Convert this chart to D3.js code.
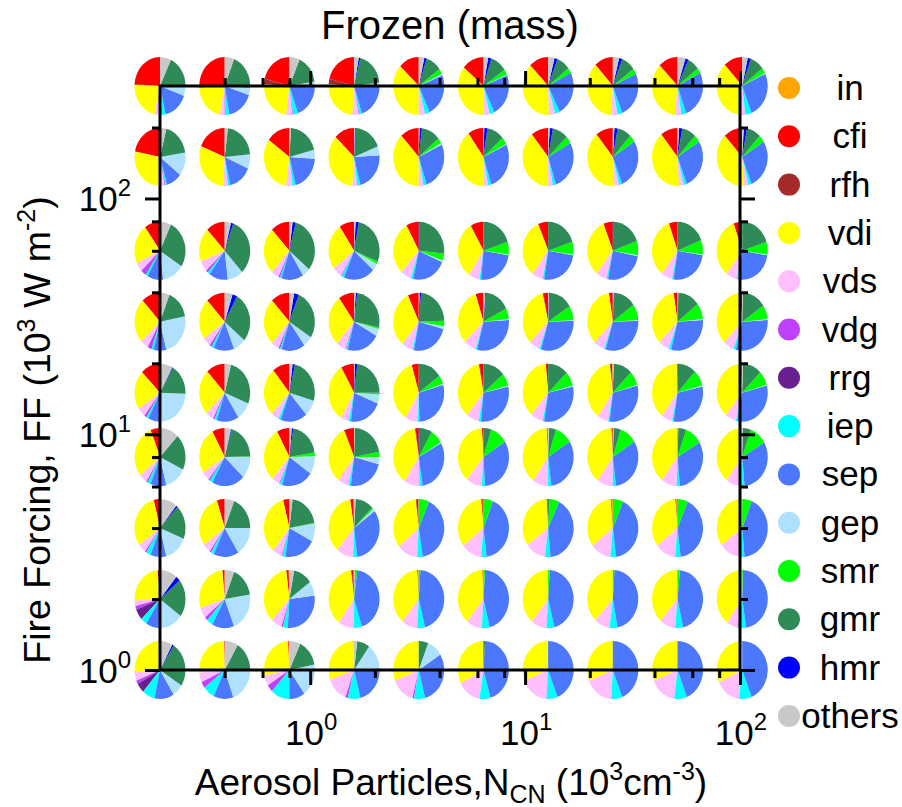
<!DOCTYPE html>
<html>
<head>
<meta charset="utf-8">
<script src="https://cdn.jsdelivr.net/npm/d3@7"></script>
<style>
  body { margin: 0; background: #fff; }
  text { font-family: "Liberation Sans", Arial, sans-serif; fill: #000; }
</style>
</head>
<body>
<svg id="chart" width="902" height="807"></svg>
<script>
// species shown in every pie, in drawing order (counter-clockwise from 12 o'clock)
const species = ['in', 'cfi', 'rfh', 'vdi', 'vds', 'vdg', 'rrg', 'iep', 'sep', 'gep', 'smr', 'gmr', 'hmr', 'others'];
const speciesColors = ['#ffa500', '#ff0000', '#a52a2a', '#ffff00', '#ffbfff', '#bf40ff', '#682090',
                       '#00ffff', '#4b78ff', '#b0e0ff', '#00ff00', '#2e8b57', '#0000ff', '#c8c8c8'];

// pie positions
const nCN = [0.2, 0.4, 0.8, 1.6, 3.2, 6.4, 12.8, 25.6, 51.2, 102.4];
const fireForcing = [300, 150, 60, 30, 15, 8, 4, 2, 1];

// tick values
const majorTicks = [1, 10, 100];
const majorExp = ['0', '1', '2'];
const minorX = [0.4, 0.6, 0.8, 2, 4, 6, 8, 20, 40, 60, 80];
const minorY = [2, 4, 6, 8, 20, 40, 60, 80, 200];

// mass shares (%) per pie, one row per FF value, columns follow nCN
// order: in, cfi, rfh, vdi, vds, vdg, rrg, iep, sep, gep, smr, gmr, hmr, others
const ff300 = [
  [0, 24, .5, 22, 3, 1, 0, 3, 16, 6, 0, 17.5, 0, 7],
  [0, 25, 1, 21, 3, .5, 0, 2.5, 17, 4, 0, 20, 0, 6],
  [0, 21, 3, 24, 4, .5, 0, 3, 20, 2, 0, 16, 0, 6.5],
  [0, 21, 3, 25, 4, .5, 0, 1.5, 20, 2, 0, 19, 1, 3],
  [0, 13, 0, 37, 4, 0, 0, 3, 24, 1, 3, 10, 1.5, 3.5],
  [0, 14, 0, 36, 4, 0, 0, 3, 24, .5, 3, 10.5, 2, 3],
  [0, 12, .5, 38, 4, 0, 0, 3, 25, 0, 3, 8.5, 2, 4],
  [0, 12, 0, 37, 4, 0, 0, 3, 26, 0, 3, 9, 2, 4],
  [0, 12, .5, 36, 4, 0, 0, 3, 27, 0, 3, 7.5, 2, 5],
  [0, 12, 0, 36, 4, 0, 0, 4, 26, .5, 3, 9, 2, 3.5]
];
const ff150 = [
  [0, 22, 0, 28, 3, .5, 0, 1, 10, 13, 0, 18.5, 0, 4],
  [0, 19, 0, 30, 3, 0, 0, 1.5, 15, 8, 0, 21.5, 0, 2],
  [0, 15, 0, 33, 4, 0, 0, 2, 20, 5, 0, 20, 0, 1],
  [0, 13, 0, 36, 3, 0, 0, 2, 22, 5, 0, 18, .5, .5],
  [0, 12, 0, 38, 3, 0, 0, 2, 27, 1, 3, 12, 1.5, .5],
  [0, 10, 0, 40, 3, 0, 0, 2, 27, .5, 4, 11, 2, .5],
  [0, 11, 0, 39, 3, 0, 0, 2, 28, 0, 4, 10, 2, 1],
  [0, 11, 0, 40, 3, 0, 0, 2, 28, 0, 4, 9, 2, 1],
  [0, 11, 0, 40, 3, 0, 0, 2, 28, 0, 4, 9, 2, 1],
  [0, 12, 0, 39, 3, 0, 0, 2, 28, 0, 4, 9, 2, 1]
];
const ff60 = [
  [0, 10, 0, 22, 5, 3, .5, 1.5, 10, 14, 0, 27, 0, 7],
  [0, 12, 0, 19, 6, 1.5, 0, 1.5, 12, 10, 0, 32.5, 1.5, 4],
  [0, 12, 0, 26, 5, 1, 0, 1, 14, 5, 0, 32, 2, 2],
  [0, 9.5, 0, 26, 6, .5, 0, 1.5, 20, 4, 1.5, 28, 2, 1],
  [0, 8, 0, 30, 7, 0, 0, 1.5, 22, 1, 4, 26, .5, 0],
  [0, 8, .5, 32, 7, 0, 0, 1, 24, .5, 7, 20, 0, 0],
  [0, 6, .5, 33, 7, 0, 0, 1, 25, .5, 7, 20, 0, 0],
  [0, 6, 0, 33, 7, 0, 0, 1, 25, .5, 8, 19, .5, 0],
  [0, 5.5, 0, 34, 7, 0, 0, 1, 25, .5, 8, 19, 0, 0],
  [0, 5.5, 0, 34, 7, 0, 0, 1, 25, .5, 7, 20, 0, 0]
];
const ff30 = [
  [0, 12, 0, 25, 5, 2, .5, 1.5, 8, 24, 0, 16, 0, 6],
  [0, 12, 0, 23, 5, 1.5, 0, 1.5, 13, 8, 0, 28, 3, 5],
  [0, 12, 0, 26, 5, .5, .5, 1, 15, 6, 0, 28, 3, 3],
  [0, 10, 0, 28.5, 6, .5, 0, 1, 21, 4, 1, 26, 1, 1],
  [0, 7, 0, 32, 7, 0, 0, 1, 24, 1.5, 3, 23, 1, .5],
  [0, 5, 0, 32, 8, 0, 0, 1, 30, .5, 6, 16, .5, 1],
  [0, 3, .5, 34, 7, 0, 0, 1, 30, .5, 8, 15, .5, .5],
  [0, 2.5, 0, 35, 7, 0, 0, 1, 30, .5, 9, 14, .5, .5],
  [0, 2.5, 0, 35, 7, 0, 0, 1.5, 30, .5, 9, 14, 0, .5],
  [0, 1.5, 0, 36, 7, 0, 0, 1.5, 30, .5, 8, 15, 0, .5]
];
const ff15 = [
  [0, 12.5, 0, 22, 5, 1.5, 0, 1.5, 8, 24, 0, 17, .5, 8],
  [0, 12, 0, 25.5, 5, 1, 0, 1.5, 14, 10, 0, 27, 0, 4],
  [0, 11, 0, 27, 5, 0, 0, 1.5, 17, 9, 0, 26, 1.5, 2],
  [0, 8, .5, 33, 5, 0, 0, 1.5, 21, 5, 1, 23, 1.5, .5],
  [0, 4.5, 0, 37, 8, 0, 0, 1, 29, .5, 5, 15, 0, 0],
  [0, 2.5, .5, 36, 8, 0, 0, 1.5, 30, .5, 7, 14, 0, 0],
  [0, 1.5, 0, 37, 8, 0, 0, 1, 31, .5, 8, 13, 0, 0],
  [.5, 1, .5, 38, 7, 0, 0, 1, 31, .5, 8, 12, 0, .5],
  [0, .5, 0, 39, 7, 0, 0, 1, 31, .5, 9, 12, 0, 0],
  [.5, .5, 0, 38, 7, 0, 0, 1, 32, .5, 8, 12, 0, .5]
];
const ff8 = [
  [0, 6, 0, 30, 5, 1, 0, 2, 10, 14, 0, 20, 0, 12],
  [0, 8, 0, 26, 5, 1, 0, 2, 21, 12, .5, 20, .5, 4],
  [0, 8, 0, 30.5, 5, .5, 0, 1.5, 20, 10, 2, 20, 1, 1.5],
  [0, 6, .5, 33, 7, 0, 0, 1.5, 23, 4, 3, 21.5, 0, .5],
  [0, 2, .5, 38, 10, 0, 0, 2, 30.5, .5, 8, 8, .5, 0],
  [0, 1, 0, 38, 10, 0, 0, 2, 33, 0, 11, 5, 0, 0],
  [.5, .5, 0, 39, 10, 0, 0, 2, 32, 0, 11, 4.5, 0, .5],
  [0, .5, .5, 39, 10, 0, 0, 2, 32, 0, 11, 4.5, 0, .5],
  [0, .5, 0, 39, 10, 0, 0, 2, 32, 0, 11, 5, 0, .5],
  [0, .5, 0, 39, 10, 0, 0, 2, 32, 0, 11, 5, 0, .5]
];
const ff4 = [
  [0, 4, 0, 31, 5, 1, 0, 3, 10, 15, 0, 19, 1, 11],
  [0, 5, 0, 30, 5, 1, 0, 2, 16, 16, 0, 19, 0, 6],
  [0, 4, 0, 35, 6, .5, 0, 2, 20, 10, .5, 20, 0, 2],
  [.5, 2, 0, 36, 11, 0, 0, 2.5, 33, 1.5, 1, 11.5, 0, 1],
  [.5, 1, .5, 34, 13, 0, 0, 3.5, 41, 0, 6, .5, 0, 0],
  [.5, .5, .5, 34, 13, 0, 0, 3.5, 42, 0, 5.5, .5, 0, 0],
  [0, .5, .5, 34, 13, 0, 0, 3.5, 41.5, 0, 6, 1, 0, 0],
  [1, 0, .5, 34, 13, 0, 0, 3.5, 41.5, 0, 6, .5, 0, 0],
  [1, 0, .5, 34, 13, 0, 0, 3.5, 41.5, 0, 6, .5, 0, 0],
  [0, 0, 0, 35, 13, 0, 0, 3.5, 42.5, 0, 6, 0, 0, 0]
];
const ff2 = [
  [.5, 1, 0, 24.5, 3, 2, 6, 4, 9, 15, 0, 21, 3, 11],
  [0, 1.5, 0, 28.5, 6, 2, 0, 4, 14, 21.5, 0, 16.5, 0, 6],
  [.5, 1.5, 0, 36, 7, 1, 0, 3, 28, 8, 0, 12, 0, 3],
  [.5, 1, .5, 38, 10, 0, 0, 5, 43, 0, 1, .5, 0, .5],
  [.5, .5, 0, 38, 10, 0, 0, 5, 45, 0, 1, 0, 0, 0],
  [1, 0, 0, 38, 10, 0, 0, 5, 45, 0, 1, 0, 0, 0],
  [.5, 0, 0, 38.5, 10, 0, 0, 5, 45, 0, 1, 0, 0, 0],
  [0, 0, 0, 38, 10, 0, 0, 5, 46, 0, 1, 0, 0, 0],
  [.5, 0, 0, 38, 10, 0, 0, 5, 45, 0, 1.5, 0, 0, 0],
  [0, 0, 0, 40, 7, .5, 0, 5, 47, 0, .5, 0, 0, 0]
];
const ff1 = [
  [0, 0, 0, 26, 5, 2, 5.5, 8, 12.5, 7, 0, 25, 1, 8],
  [0, .5, 0, 26, 5.5, 3.5, 0, 7.5, 12.5, 19.5, 0, 16.5, 0, 8.5],
  [.5, .5, 0, 27, 6, 4, 0, 12, 10, 18, 0, 15, 0, 7],
  [.5, 0, 0, 30, 14, 1.5, 0, 8, 22, 14, 0, 8, 0, 2],
  [0, 0, 0, 31, 15, 1, 0, 7, 30, 10, 0, 6, 0, 0],
  [.5, 0, 0, 32, 15, 0, 0, 7, 44.5, 0, 0, 1, 0, 0],
  [0, 0, 0, 31, 18, 0, 0, 7, 44, 0, 0, 0, 0, 0],
  [0, 0, 0, 31, 18, 0, 0, 7, 44, 0, 0, 0, 0, 0],
  [0, 0, 0, 31, 17, 0, 0, 8, 44, 0, 0, 0, 0, 0],
  [0, 0, 0, 32, 16, 0, 0, 8, 44, 0, 0, 0, 0, 0]
];
const rows = [ff300, ff150, ff60, ff30, ff15, ff8, ff4, ff2, ff1];

const svg = d3.select('#chart');
const frame = { left: 160, right: 740, top: 86, bottom: 670 };

const x = d3.scaleLog().domain([0.2, 100]).range([frame.left, frame.right]);
const y = d3.scaleLog().domain([1, 300]).range([frame.bottom, frame.top]);
const color = d3.scaleOrdinal().domain(species).range(speciesColors);

// pies: counter-clockwise from the top, slightly taller than wide
const rx = 25.5, ry = 29;
const pie = d3.pie().sort(null).value(d => d).startAngle(0).endAngle(-2 * Math.PI);
const arc = d3.arc().innerRadius(0).outerRadius(1);

const pieLayer = svg.append('g');
rows.forEach((row, i) => {
  row.forEach((shares, j) => {
    pieLayer.append('g')
      .attr('transform', `translate(${x(nCN[j])},${y(fireForcing[i])}) scale(${rx},${ry})`)
      .selectAll('path')
      .data(pie(shares).filter(d => d.value > 0))
      .enter().append('path')
      .attr('d', arc)
      .attr('fill', d => color(species[d.index]));
  });
});

// axes (ticks point outwards on all four sides)
function ticks(axis, pos, values, size) {
  svg.append('g').attr('transform', pos)
    .call(axis.tickValues(values).tickSize(size).tickSizeOuter(0).tickFormat(''))
    .call(g => g.select('.domain').remove())
    .call(g => g.selectAll('line').attr('stroke', '#000').attr('stroke-width', 3));
}
ticks(d3.axisBottom(x), `translate(0,${frame.bottom})`, majorTicks, 15);
ticks(d3.axisBottom(x), `translate(0,${frame.bottom})`, minorX, 8);
ticks(d3.axisTop(x), `translate(0,${frame.top})`, majorTicks, 15);
ticks(d3.axisTop(x), `translate(0,${frame.top})`, minorX, 8);
ticks(d3.axisLeft(y), `translate(${frame.left},0)`, majorTicks, 15);
ticks(d3.axisLeft(y), `translate(${frame.left},0)`, minorY, 8);
ticks(d3.axisRight(y), `translate(${frame.right},0)`, majorTicks, 15);
ticks(d3.axisRight(y), `translate(${frame.right},0)`, minorY, 8);

svg.append('rect')
  .attr('x', frame.left).attr('y', frame.top)
  .attr('width', frame.right - frame.left).attr('height', frame.bottom - frame.top)
  .attr('fill', 'none').attr('stroke', '#000').attr('stroke-width', 3);

function powerLabel(t, exp) {
  t.append('tspan').text('10');
  t.append('tspan').attr('dy', -15).attr('font-size', 24).text(exp);
}
majorTicks.forEach((v, i) => {
  const tx = svg.append('text').attr('x', x(v) + 1).attr('y', 745)
    .attr('font-size', 35).attr('text-anchor', 'middle');
  powerLabel(tx, majorExp[i]);
  const ty = svg.append('text').attr('x', 131).attr('y', y(v) + 13)
    .attr('font-size', 35).attr('text-anchor', 'end');
  powerLabel(ty, majorExp[i]);
});

// title and axis titles
svg.append('text').attr('x', 450).attr('y', 39).attr('font-size', 40)
  .attr('text-anchor', 'middle').text('Frozen (mass)');

const xt = svg.append('text').attr('x', 451).attr('y', 795).attr('font-size', 37).attr('text-anchor', 'middle');
xt.append('tspan').text('Aerosol Particles,N');
xt.append('tspan').attr('dy', 8).attr('font-size', 25).text('CN');
xt.append('tspan').attr('dy', -8).text(' (10');
xt.append('tspan').attr('dy', -15).attr('font-size', 25).text('3');
xt.append('tspan').attr('dy', 15).text('cm');
xt.append('tspan').attr('dy', -15).attr('font-size', 25).text('-3');
xt.append('tspan').attr('dy', 15).text(')');

const yt = svg.append('text').attr('transform', 'translate(50,430) rotate(-90)')
  .attr('font-size', 37.5).attr('text-anchor', 'middle');
yt.append('tspan').text('Fire Forcing, FF (10');
yt.append('tspan').attr('dy', -15).attr('font-size', 25).text('3');
yt.append('tspan').attr('dy', 15).text(' W m');
yt.append('tspan').attr('dy', -15).attr('font-size', 25).text('-2');
yt.append('tspan').attr('dy', 15).text(')');

// legend
const legend = svg.append('g');
species.forEach((s, i) => {
  const cy = 88 + i * 48.3;
  legend.append('ellipse').attr('cx', 789).attr('cy', cy).attr('rx', 11).attr('ry', 11)
    .attr('fill', color(s));
  legend.append('text').attr('x', 850).attr('y', cy + 12).attr('font-size', 35)
    .attr('text-anchor', 'middle').text(s);
});
</script>
</body>
</html>
